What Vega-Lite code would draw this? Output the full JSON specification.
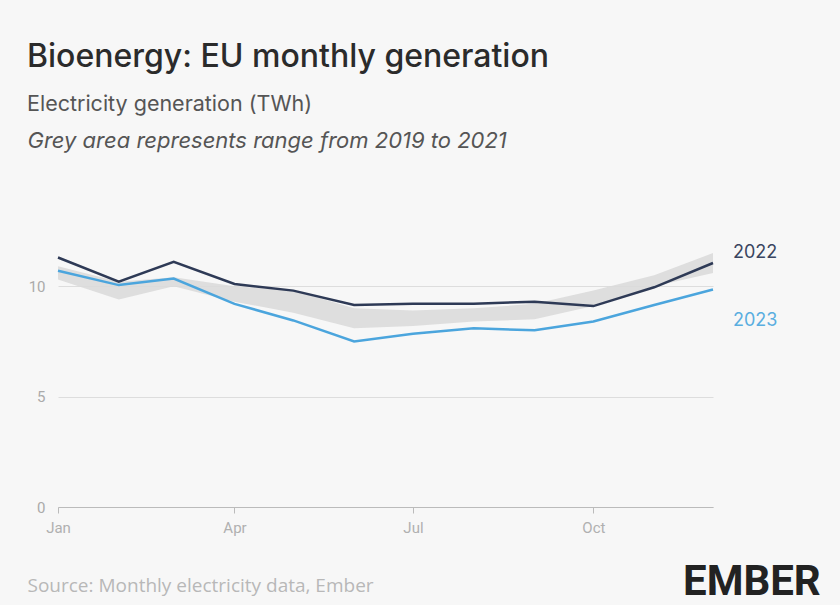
{
  "$schema": "https://vega.github.io/schema/vega-lite/v6.json",
  "width": 655,
  "height": 276,
  "autosize": {"type": "none"},
  "padding": {"left": 58, "top": 231, "right": 127, "bottom": 98},
  "background": "#f7f7f7",
  "config": {"view": {"stroke": null}, "font": "Inter"},
  "title": {
    "text": "Bioenergy: EU monthly generation",
    "subtitle": "Electricity generation (TWh)",
    "anchor": "start",
    "frame": "group",
    "dx": -31,
    "dy": -9,
    "font": "Inter",
    "fontSize": 32,
    "fontWeight": 500,
    "color": "#2b2b2b",
    "subtitleFont": "Inter",
    "subtitleFontSize": 21.5,
    "subtitleColor": "#555555",
    "subtitlePadding": 20
  },
  "datasets": {
    "lines": [
      {"month": "2022-01-01", "series": "2022", "value": 11.3},
      {"month": "2022-02-01", "series": "2022", "value": 10.2},
      {"month": "2022-03-01", "series": "2022", "value": 11.1},
      {"month": "2022-04-01", "series": "2022", "value": 10.1},
      {"month": "2022-05-01", "series": "2022", "value": 9.8},
      {"month": "2022-06-01", "series": "2022", "value": 9.15},
      {"month": "2022-07-01", "series": "2022", "value": 9.2},
      {"month": "2022-08-01", "series": "2022", "value": 9.2},
      {"month": "2022-09-01", "series": "2022", "value": 9.3},
      {"month": "2022-10-01", "series": "2022", "value": 9.1},
      {"month": "2022-11-01", "series": "2022", "value": 9.95},
      {"month": "2022-12-01", "series": "2022", "value": 11.05},
      {"month": "2022-01-01", "series": "2023", "value": 10.7},
      {"month": "2022-02-01", "series": "2023", "value": 10.05},
      {"month": "2022-03-01", "series": "2023", "value": 10.35},
      {"month": "2022-04-01", "series": "2023", "value": 9.2},
      {"month": "2022-05-01", "series": "2023", "value": 8.45},
      {"month": "2022-06-01", "series": "2023", "value": 7.5},
      {"month": "2022-07-01", "series": "2023", "value": 7.85},
      {"month": "2022-08-01", "series": "2023", "value": 8.1},
      {"month": "2022-09-01", "series": "2023", "value": 8.0},
      {"month": "2022-10-01", "series": "2023", "value": 8.4},
      {"month": "2022-11-01", "series": "2023", "value": 9.15},
      {"month": "2022-12-01", "series": "2023", "value": 9.85}
    ],
    "range": [
      {"month": "2022-01-01", "min": 10.3, "max": 10.9},
      {"month": "2022-02-01", "min": 9.4, "max": 10.2},
      {"month": "2022-03-01", "min": 10.0, "max": 10.4},
      {"month": "2022-04-01", "min": 9.3, "max": 10.0},
      {"month": "2022-05-01", "min": 8.8, "max": 9.8},
      {"month": "2022-06-01", "min": 8.1, "max": 9.0},
      {"month": "2022-07-01", "min": 8.2, "max": 8.9},
      {"month": "2022-08-01", "min": 8.4, "max": 9.0},
      {"month": "2022-09-01", "min": 8.5, "max": 9.2},
      {"month": "2022-10-01", "min": 9.1, "max": 9.8},
      {"month": "2022-11-01", "min": 10.0, "max": 10.5},
      {"month": "2022-12-01", "min": 10.6, "max": 11.5}
    ]
  },
  "layer": [
    {
      "data": {"name": "range"},
      "mark": {"type": "area", "color": "#dadada", "opacity": 0.9},
      "encoding": {
        "x": {
          "field": "month",
          "type": "temporal",
          "scale": {"type": "utc"},
          "axis": {
            "values": [
              {"year": 2022, "month": 1, "date": 1, "utc": true},
              {"year": 2022, "month": 4, "date": 1, "utc": true},
              {"year": 2022, "month": 7, "date": 1, "utc": true},
              {"year": 2022, "month": 10, "date": 1, "utc": true}
            ],
            "format": "%b",
            "grid": false,
            "labelFlush": false,
            "domainColor": "#bbbbbb",
            "tickColor": "#bbbbbb",
            "tickSize": 6,
            "labelColor": "#b0b0b0",
            "labelFont": "Roboto",
            "labelFontSize": 15,
            "labelPadding": 7,
            "title": "Source: Monthly electricity data, Ember",
            "titleX": -31,
            "titleY": 84,
            "titleAlign": "left",
            "titleBaseline": "alphabetic",
            "titleFont": "Open Sans",
            "titleFontSize": 19,
            "titleFontWeight": "normal",
            "titleColor": "#b8b8b8"
          }
        },
        "y": {
          "field": "min",
          "type": "quantitative",
          "scale": {"domain": [0, 12.5], "nice": false},
          "axis": {
            "values": [0, 5, 10],
            "grid": true,
            "gridColor": "#dddddd",
            "domain": false,
            "ticks": false,
            "labelPadding": 13,
            "labelColor": "#aaaaaa",
            "labelFont": "Roboto",
            "labelFontSize": 15,
            "title": "Grey area represents range from 2019 to 2021",
            "titleAngle": 0,
            "titleX": -31,
            "titleY": -84,
            "titleAlign": "left",
            "titleBaseline": "alphabetic",
            "titleFont": "Inter",
            "titleFontStyle": "italic",
            "titleFontWeight": "normal",
            "titleFontSize": 22,
            "titleColor": "#555555"
          }
        },
        "y2": {"field": "max"}
      }
    },
    {
      "data": {"name": "lines"},
      "mark": {"type": "line", "strokeWidth": 2.5},
      "encoding": {
        "x": {"field": "month", "type": "temporal", "scale": {"type": "utc"}},
        "y": {"field": "value", "type": "quantitative"},
        "color": {
          "field": "series",
          "type": "nominal",
          "scale": {"domain": ["2022", "2023"], "range": ["#2e3a56", "#4ba5dd"]},
          "legend": {
            "orient": "none",
            "legendX": 625,
            "legendY": 330,
            "direction": "horizontal",
            "title": "EMBER",
            "titleOrient": "bottom",
            "titlePadding": 0,
            "titleFont": "Roboto",
            "titleFontSize": 42,
            "titleFontWeight": "bold",
            "titleColor": "#222222",
            "titleBaseline": "top",
            "labelOpacity": 0,
            "labelFontSize": 1,
            "symbolSize": 1,
            "symbolOpacity": 0,
            "symbolStrokeWidth": 0
          }
        }
      }
    },
    {
      "data": {"name": "lines"},
      "transform": [{"filter": "datum.series === '2022' && utcmonth(datum.month) === 11"}],
      "mark": {"type": "text", "align": "left", "dx": 20, "dy": -10, "fontSize": 18, "font": "Inter", "color": "#3a4560"},
      "encoding": {
        "x": {"field": "month", "type": "temporal", "scale": {"type": "utc"}},
        "y": {"field": "value", "type": "quantitative"},
        "text": {"field": "series"}
      }
    },
    {
      "data": {"name": "lines"},
      "transform": [{"filter": "datum.series === '2023' && utcmonth(datum.month) === 11"}],
      "mark": {"type": "text", "align": "left", "dx": 20, "dy": 31, "fontSize": 18, "font": "Inter", "color": "#5aaee0"},
      "encoding": {
        "x": {"field": "month", "type": "temporal", "scale": {"type": "utc"}},
        "y": {"field": "value", "type": "quantitative"},
        "text": {"field": "series"}
      }
    }
  ]
}
